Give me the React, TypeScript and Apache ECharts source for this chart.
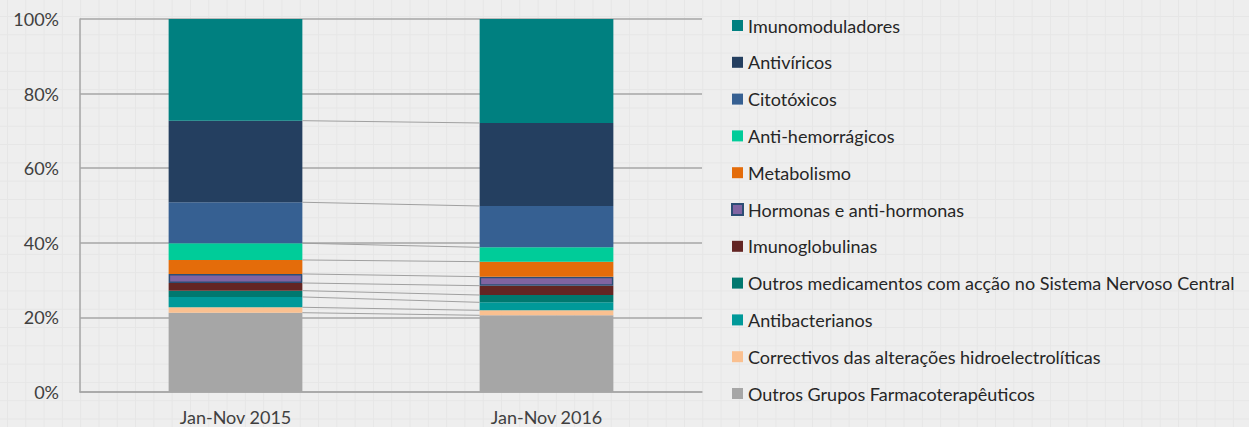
import React, { useEffect, useRef } from "react";
import * as echarts from "echarts";

const categories = ["Jan-Nov 2015", "Jan-Nov 2016"];

// stacking order: bottom to top
const seriesNames = [
  "Outros Grupos Farmacoterapêuticos",
  "Correctivos das alterações hidroelectrolíticas",
  "Antibacterianos",
  "Outros medicamentos com acção no Sistema Nervoso Central",
  "Imunoglobulinas",
  "Hormonas e anti-hormonas",
  "Metabolismo",
  "Anti-hemorrágicos",
  "Citotóxicos",
  "Antivíricos",
  "Imunomoduladores",
];

const outrosGrupos = [21.26, 20.56];
const correctivos = [1.45, 1.34];
const antibacterianos = [2.77, 2.14];
const outrosSNC = [1.69, 1.96];
const imunoglobulinas = [2.06, 2.5];
const hormonas = [2.42, 2.42];
const metabolismo = [3.75, 4.02];
const antiHemorragicos = [4.48, 3.85];
const citotoxicos = [10.99, 11.08];
const antiviricos = [21.87, 22.25];
const imunomoduladores = [27.27, 27.88];

const seriesValues = [
  outrosGrupos,
  correctivos,
  antibacterianos,
  outrosSNC,
  imunoglobulinas,
  hormonas,
  metabolismo,
  antiHemorragicos,
  citotoxicos,
  antiviricos,
  imunomoduladores,
];

const colors = [
  "#a6a6a6",
  "#fac090",
  "#009999",
  "#00786f",
  "#632523",
  "#8064a2",
  "#e46c0a",
  "#00cc99",
  "#366092",
  "#243f60",
  "#008080",
];

const yTicks = [0, 20, 40, 60, 80, 100];

const FONT = "Lato";
const BAR_FRAC = 0.43;

export default function App() {
  const ref = useRef<HTMLDivElement>(null);
  useEffect(() => {
    if (!ref.current) return;
    const chart = echarts.init(ref.current, null, { renderer: "svg" });

    // cumulative tops for series lines (exclude topmost = 100%)
    const cum1: number[] = [];
    const cum2: number[] = [];
    let a = 0,
      b = 0;
    seriesValues.forEach((v) => {
      a += v[0];
      b += v[1];
      cum1.push(a);
      cum2.push(b);
    });
    const lineData = cum1.slice(0, -1).map((c, i) => [0, c, cum2[i]]);

    const barSeries = seriesNames.map((name, i) => ({
      name,
      type: "bar",
      stack: "total",
      barWidth: BAR_FRAC * 100 + "%",
      data: seriesValues[i],
      itemStyle: {
        color: colors[i],
        borderColor: name === "Hormonas e anti-hormonas" ? "#2c4d75" : undefined,
        borderWidth: name === "Hormonas e anti-hormonas" ? 1.5 : 0,
      },
      emphasis: { disabled: true },
    }));

    chart.setOption({
      animation: false,
      backgroundColor: "transparent",
      color: colors,
      grid: { left: 80, right: 547, top: 19, bottom: 35, containLabel: false },
      legend: {
        orient: "vertical",
        left: 726,
        top: 11.5,
        itemWidth: 11,
        itemHeight: 11,
        itemGap: 18.8,
        icon: "rect",
        data: seriesNames.slice().reverse(),
        textStyle: {
          fontFamily: FONT,
          fontSize: 18,
          lineHeight: 18,
          color: "#262626",
        },
        selectedMode: false,
      },
      xAxis: {
        type: "category",
        data: categories,
        axisLine: { show: true, lineStyle: { color: "#a6a6a6", width: 1.5 } },
        axisTick: { show: false },
        axisLabel: {
          fontFamily: FONT,
          fontSize: 18,
          color: "#404040",
          margin: 16,
        },
      },
      yAxis: {
        type: "value",
        min: yTicks[0],
        max: yTicks[yTicks.length - 1],
        interval: 20,
        axisLine: { show: true, lineStyle: { color: "#a6a6a6", width: 1.5 } },
        axisTick: { show: false },
        splitLine: { show: true, lineStyle: { color: "#a6a6a6", width: 1.5 } },
        axisLabel: {
          fontFamily: FONT,
          fontSize: 18,
          color: "#404040",
          margin: 21,
          formatter: "{value}%",
        },
      },
      series: [
        ...barSeries,
        {
          type: "custom",
          name: "seriesLines",
          z: 5,
          silent: true,
          encode: { x: 0, y: 1 },
          data: lineData,
          renderItem: (params: any, api: any) => {
            const v1 = api.value(1);
            const v2 = api.value(2);
            const p1 = api.coord([0, v1]);
            const p2 = api.coord([1, v2]);
            const bw = api.size([1, 0])[0] * BAR_FRAC;
            return {
              type: "line",
              shape: {
                x1: p1[0] + bw / 2,
                y1: p1[1],
                x2: p2[0] - bw / 2,
                y2: p2[1],
              },
              style: { stroke: "#a0a0a0", lineWidth: 1 },
            };
          },
        },
      ],
    });
    return () => chart.dispose();
  }, []);

  return (
    <div
      style={{
        position: "fixed",
        left: 0,
        top: 0,
        width: 1249,
        height: 427,
        backgroundColor: "#eeeeee",
        backgroundImage:
          "linear-gradient(#e6e6e6 1px, transparent 1px), linear-gradient(90deg, #e6e6e6 1px, transparent 1px)",
        backgroundSize: "18.3px 18.3px",
        backgroundPosition: "7px 16px",
      }}
    >
      <div ref={ref} style={{ width: 1249, height: 427 }} />
    </div>
  );
}
